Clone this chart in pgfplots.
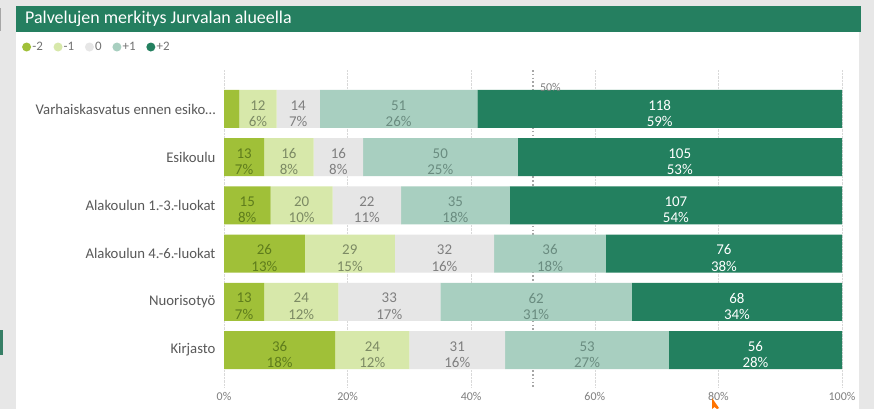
\documentclass[border=0pt]{standalone}
\usepackage{fontspec}
\setmainfont{Carlito}
\usepackage{pgfplots}
\usepackage{pgfplotstable}
\pgfplotsset{compat=1.18}

\definecolor{cA}{HTML}{A0C038}
\definecolor{cB}{HTML}{D7E8AA}
\definecolor{cC}{HTML}{E6E6E6}
\definecolor{cD}{HTML}{A8CFC0}
\definecolor{cE}{HTML}{23805F}
\definecolor{tA}{HTML}{5E7C1C}
\definecolor{tB}{HTML}{7C8A64}
\definecolor{tC}{HTML}{7F7F7F}
\definecolor{tD}{HTML}{6A8C80}
\definecolor{bg}{HTML}{E7E7E7}
\definecolor{titlebar}{HTML}{257F60}
\definecolor{catgray}{HTML}{595959}

% shares in percent of respondents per service
\pgfplotstableread{
y  a     b     c     d     e
0  2.5   6     7     25.5  59
1  6.5   8     8     25    52.5
2  7.54  10.05 11.06 17.59 53.77
3  13.07 14.57 16.08 18.09 38.19
4  6.5   12    16.5  31    34
5  18    12    15.5  26.5  28
}\shares

% label tables: y, centre of segment (m), count (n), rounded percent (p)
\pgfplotstableread{
y m n p
1 3.25 13 7
2 3.77 15 8
3 6.53 26 13
4 3.25 13 7
5 9 36 18
}\labA
\pgfplotstableread{
y m n p
0 5.5 12 6
1 10.5 16 8
2 12.56 20 10
3 20.35 29 15
4 12.5 24 12
5 24 24 12
}\labB
\pgfplotstableread{
y m n p
0 12 14 7
1 18.5 16 8
2 23.12 22 11
3 35.68 32 16
4 26.75 33 17
5 37.75 31 16
}\labC
\pgfplotstableread{
y m n p
0 28.25 51 26
1 35 50 25
2 37.44 35 18
3 52.76 36 18
4 50.5 62 31
5 58.75 53 27
}\labD
\pgfplotstableread{
y m n p
0 70.5 118 59
1 73.75 105 53
2 73.12 107 54
3 80.9 76 38
4 83 68 34
5 86 56 28
}\labE

\pgfplotsset{
  base/.style={at={(224bp,21bp)}, anchor=south west, scale only axis,
    width=618bp, height=318bp, xmin=0, xmax=100,
    ymin=-0.809, ymax=5.788, y dir=reverse},
  lab/.style={draw=none, mark=none, forget plot,
    point meta=explicit symbolic,
    visualization depends on={\thisrow{n}\as\cnt},
    nodes near coords={\pgfmathprintnumber[fixed,precision=0,assume math mode=true]{\cnt}\\\pgfplotspointmeta\%},
    every node near coord/.append style={anchor=center, align=center,
      font=\fontsize{15}{16.5}\selectfont, text=#1, yshift=-4.5bp, inner sep=0pt}},
}

\begin{document}
\begin{tikzpicture}
\useasboundingbox (0,0) rectangle (874bp,409bp);
\fill[bg] (0,0) rectangle (874bp,409bp);
\fill[white] (16bp,0) rectangle (859bp,377bp);
\fill[titlebar] (16bp,377bp) rectangle (861bp,403bp);
\fill[titlebar!80!gray] (0,54bp) rectangle (2.5bp,79bp);
\fill[gray!70] (0,378bp) rectangle (1.2bp,401bp);
\node[anchor=west, inner sep=0pt, text=white, font=\fontsize{18}{21}\selectfont]
  at (25bp,390bp) {Palvelujen merkitys Jurvalan alueella};

\begin{axis}[base,
  xbar stacked, bar width=38bp,
  axis line style={draw=none}, major tick length=0pt,
  xtick={0,20,...,100}, xticklabels={0\%,20\%,40\%,60\%,80\%,100\%},
  xticklabel style={font=\fontsize{12}{14}\selectfont, text=tC, yshift=-1bp},
  ytick={0,...,5},
  yticklabels={Varhaiskasvatus ennen esiko…, Esikoulu, Alakoulun 1.-3.-luokat,
    Alakoulun 4.-6.-luokat, Nuorisotyö, Kirjasto},
  yticklabel style={font=\fontsize{14.8}{17}\selectfont, text=catgray, xshift=-5bp},
  xmajorgrids, ymajorgrids=false,
  major grid style={densely dotted, color=black!15},
  extra x ticks={50}, extra x tick labels={},
  extra x tick style={major grid style={line width=1.6bp,
    dash pattern=on 1.6bp off 2.2bp, color=black!35}},
  legend columns=5,
  legend style={at={(-0.327,1.0723)}, anchor=west, draw=none, fill=none,
    font=\fontsize{13}{15}\selectfont, text=black!55, inner sep=0pt,
    nodes={inner sep=1.2bp},
    /tikz/every even column/.append style={column sep=9.5bp}},
]
\addplot[fill=cA, draw=none, legend image code/.code={\fill[cA] (4.5bp,0bp) circle (4.5bp);}] table[x=a, y=y] {\shares};
\addlegendentry{-2}
\addplot[fill=cB, draw=none, legend image code/.code={\fill[cB] (4.5bp,0bp) circle (4.5bp);}] table[x=b, y=y] {\shares};
\addlegendentry{-1}
\addplot[fill=cC, draw=none, legend image code/.code={\fill[cC] (4.5bp,0bp) circle (4.5bp);}] table[x=c, y=y] {\shares};
\addlegendentry{0}
\addplot[fill=cD, draw=none, legend image code/.code={\fill[cD] (4.5bp,0bp) circle (4.5bp);}] table[x=d, y=y] {\shares};
\addlegendentry{+1}
\addplot[fill=cE, draw=none, legend image code/.code={\fill[cE] (4.5bp,0bp) circle (4.5bp);}] table[x=e, y=y] {\shares};
\addlegendentry{+2}
\end{axis}

\begin{axis}[base, hide axis]
\addplot[lab=tA] table[x=m, y=y, meta=p] {\labA};
\addplot[lab=tB] table[x=m, y=y, meta=p] {\labB};
\addplot[lab=tC] table[x=m, y=y, meta=p] {\labC};
\addplot[lab=tD] table[x=m, y=y, meta=p] {\labD};
\addplot[lab=white] table[x=m, y=y, meta=p] {\labE};
\node[anchor=west, inner sep=0pt, text=tC, font=\fontsize{12}{14}\selectfont]
  at (axis cs:51.1,-0.45) {50\%};
\end{axis}

\fill[orange!90!red] (712bp,11bp) -- (712bp,0bp) -- (714.5bp,2bp) -- (717bp,0bp) -- (719bp,1bp) -- cycle;
\end{tikzpicture}
\end{document}
